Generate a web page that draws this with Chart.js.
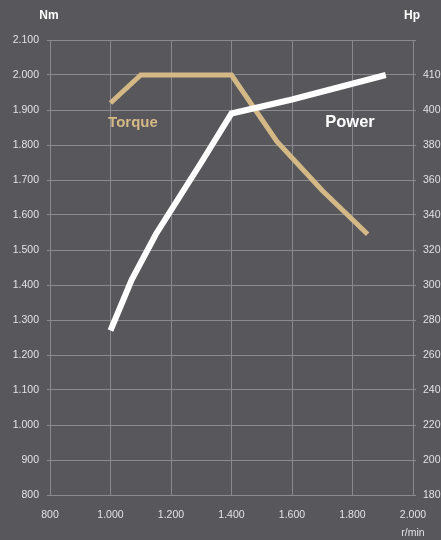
<!DOCTYPE html>
<html>
<head>
<meta charset="utf-8">
<script src="https://cdn.jsdelivr.net/npm/chart.js@4"></script>
<style>
html,body{margin:0;padding:0;background:#58575c;}
#wrap{width:441px;height:540px;position:relative;}
</style>
</head>
<body>
<div id="wrap"><canvas id="c" width="441" height="540"></canvas></div>
<script>
// ---- data ----
const torqueRpm = [1000, 1100, 1400, 1550, 1700, 1850];
const torqueNm  = [1920, 2000, 2000, 1810, 1670, 1545];
const powerRpm  = [1000, 1070, 1150, 1300, 1400, 1600, 1910];
const powerHp   = [274, 303, 329, 370, 398, 403, 410];
const nmTicks   = [800, 900, 1000, 1100, 1200, 1300, 1400, 1500, 1600, 1700, 1800, 1900, 2000, 2100];
const hpTicks   = [180, 200, 220, 240, 260, 280, 300, 320, 340, 360, 380, 400, 410];
const rpmTicks  = [800, 1000, 1200, 1400, 1600, 1800, 2000];

const BG = '#58575c', GRID = '#8b8a8f', TXT = '#e2e2e4', TAN = '#d4b987';

function fmt(v){ v = Math.round(v); const s = String(v); return v >= 1000 ? s.slice(0, s.length-3) + '.' + s.slice(-3) : s; }
// map Hp onto the shared Nm gridlines (right axis labels are placed on the same lines)
function hpToAxis(hp){
  for (let i = 0; i < hpTicks.length - 1; i++){
    if (hp <= hpTicks[i+1]){
      const t = (hp - hpTicks[i]) / (hpTicks[i+1] - hpTicks[i]);
      return nmTicks[i] + t * (nmTicks[i+1] - nmTicks[i]);
    }
  }
  return nmTicks[hpTicks.length - 1];
}

const torquePts = torqueRpm.map((x,i)=>({x, y: torqueNm[i]}));
const powerPts  = powerRpm.map((x,i)=>({x, y: hpToAxis(powerHp[i])}));

const textPlugin = {
  id: 'texts',
  afterDraw(chart){
    const ctx = chart.ctx, xs = chart.scales.x, ys = chart.scales.y, ca = chart.chartArea;
    ctx.save();
    ctx.textBaseline = 'middle';
    ctx.fillStyle = '#ffffff';
    ctx.font = 'bold 12px "Liberation Sans", Arial, sans-serif';
    ctx.textAlign = 'center';
    ctx.fillText('Nm', ca.left - 1, 16);
    ctx.fillText('Hp', ca.right - 1, 16);
    ctx.fillStyle = TXT;
    ctx.font = '10.5px "Liberation Sans", Arial, sans-serif';
    ctx.fillText('r/min', ca.right, 533);
    ctx.textAlign = 'left';
    ctx.fillStyle = TAN;
    ctx.font = 'bold 15px "Liberation Sans", Arial, sans-serif';
    ctx.fillText('Torque', xs.getPixelForValue(992), ys.getPixelForValue(1863));
    ctx.fillStyle = '#ffffff';
    ctx.font = 'bold 16.5px "Liberation Sans", Arial, sans-serif';
    ctx.fillText('Power', xs.getPixelForValue(1710), ys.getPixelForValue(1863));
    ctx.restore();
  }
};

const bgPlugin = {
  id: 'bg',
  beforeDraw(chart){ const c = chart.ctx; c.save(); c.fillStyle = BG; c.fillRect(0,0,chart.width,chart.height); c.restore(); }
};

new Chart(document.getElementById('c'), {
  type: 'line',
  data: {
    datasets: [
      { label: 'Power', data: powerPts, yAxisID: 'y2', borderColor: '#ffffff', borderWidth: 6, pointRadius: 0, tension: 0, borderJoinStyle: 'miter', borderCapStyle: 'butt' },
      { label: 'Torque', data: torquePts, yAxisID: 'y', borderColor: TAN, borderWidth: 5, pointRadius: 0, tension: 0, borderJoinStyle: 'miter', borderCapStyle: 'butt' }
    ]
  },
  options: {
    responsive: false,
    animation: false,
    events: [],
    layout: { padding: { top: 40, left: 0, right: 0, bottom: 0 } },
    plugins: { legend: { display: false }, tooltip: { enabled: false }, title: { display: false } },
    scales: {
      x: {
        type: 'linear', min: 800, max: 2000,
        afterBuildTicks(s){ s.ticks = rpmTicks.map(v=>({value:v})); },
        afterFit(s){ s.height = 45; },
        grid: { color: GRID, lineWidth: 1, drawTicks: false },
        border: { color: GRID, width: 1 },
        ticks: { color: TXT, font: { family: '"Liberation Sans", Arial, sans-serif', size: 10.5 }, padding: 14, maxRotation: 0, autoSkip: false, callback: v => fmt(v) }
      },
      y: {
        type: 'linear', position: 'left', min: 800, max: 2100,
        afterBuildTicks(s){ s.ticks = nmTicks.map(v=>({value:v})); },
        afterFit(s){ s.width = 50; },
        grid: { color: GRID, lineWidth: 1, tickLength: 3 },
        border: { color: GRID, width: 1 },
        ticks: { color: TXT, font: { family: '"Liberation Sans", Arial, sans-serif', size: 10.5 }, padding: 8, autoSkip: false, callback: v => fmt(v) }
      },
      y2: {
        type: 'linear', position: 'right', min: 800, max: 2100,
        afterBuildTicks(s){ s.ticks = nmTicks.map(v=>({value:v})); },
        afterFit(s){ s.width = 28; },
        grid: { drawOnChartArea: false, color: GRID, lineWidth: 1, tickLength: 3 },
        border: { color: GRID, width: 1 },
        ticks: { color: TXT, font: { family: '"Liberation Sans", Arial, sans-serif', size: 10.5 }, padding: 7, autoSkip: false,
          callback: (v) => { const i = nmTicks.indexOf(v); return (i >= 0 && i < hpTicks.length) ? String(hpTicks[i]) : ''; } }
      }
    }
  },
  plugins: [bgPlugin, textPlugin]
});
</script>
</body>
</html>
